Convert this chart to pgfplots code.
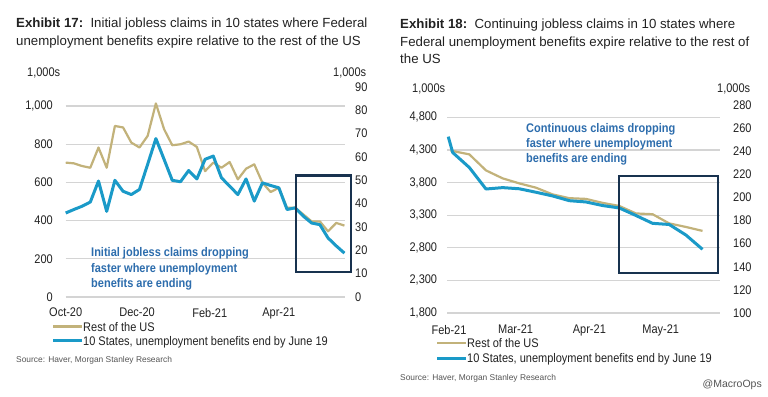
\documentclass[border=0pt]{standalone}
\usepackage{fontspec}
\setmainfont{Liberation Sans}
\newfontfamily\condfont{Liberation Sans}[FakeStretch=0.88]
\usepackage{pgfplots}
\pgfplotsset{compat=1.18}
\definecolor{gold}{HTML}{C2B27A}
\definecolor{lblue}{HTML}{1A9AC8}
\definecolor{navy}{HTML}{18324F}
\definecolor{anno}{HTML}{2D6DAD}
\definecolor{gridc}{HTML}{D4D4D4}
\definecolor{txt}{HTML}{222222}
\definecolor{srcc}{HTML}{555555}
\newcommand{\tfont}{\condfont\fontsize{12.5bp}{12.5bp}\selectfont}
\newcommand{\ttlfont}{\fontsize{13.25bp}{17bp}\selectfont}
\newcommand{\afont}{\condfont\bfseries\fontsize{12.5bp}{15.3bp}\selectfont}

\pgfplotsset{
  panel/.style={
    scale only axis, anchor=south west, clip=false,
    axis line style={draw=none}, tick style={draw=none},
    ticklabel style={font=\tfont, text=txt},
  },
}

\begin{document}
\begin{tikzpicture}[x=1bp,y=1bp]
\path[use as bounding box] (0,0) rectangle (768,396);
\fill[white] (0,0) rectangle (768,396);

% ---------------- Left chart ----------------
\begin{axis}[panel, at={(65.7bp,99bp)}, width=279.3bp, height=210bp,
  xmin=0, xmax=34.07, ymin=0, ymax=1100,
  ytick={0,200,400,600,800,1000}, yticklabels={0,200,400,600,800,{1,000}},
  ymajorgrids, grid style={gridc, line width=1.3bp},
  xtick={0,8.71,17.57,26}, xticklabels={Oct-20,Dec-20,Feb-21,Apr-21},
  yticklabel style={anchor=east, inner sep=0pt, xshift=-12.7bp},
  xticklabel style={anchor=north, inner sep=0pt, yshift=-11bp},
]
\addplot[gold, line width=2.2bp, line join=round] coordinates {
(0,704)(1,700)(2,686)(3,677)(4,783)(5,677)(6,896)(7,888)(8,809)(9,783)
(10,844)(11,1014)(12,879)(13,795)(14,800)(15,814)(16,786)(17,659)(18,704)(19,677)
(20,707)(21,616)(22,672)(23,695)(24,598)(25,550)(26,572)(27,467)(28,467)(29,432)
(30,396)(31,396)(32,344)(33,388)(34,374)};
\end{axis}
\begin{axis}[panel, at={(65.7bp,99bp)}, width=279.3bp, height=210bp,
  xmin=0, xmax=34.07, ymin=0, ymax=90,
  axis x line=none, axis y line*=right,
  ytick={0,10,20,30,40,50,60,70,80,90}, yticklabels={0,10,20,30,40,50,60,70,80,90},
  yticklabel style={anchor=west, inner sep=0pt, xshift=10bp},
]
\addplot[lblue, line width=3bp, line join=round] coordinates {
(0,36.0)(1,37.5)(2,38.9)(3,40.7)(4,49.7)(5,36.7)(6,50.0)(7,45.3)(8,43.9)(9,46.1)
(10,56.9)(11,67.9)(12,59.0)(13,50.0)(14,49.4)(15,54.2)(16,50.6)(17,59.0)(18,60.4)(19,51.1)
(20,47.5)(21,43.9)(22,50.6)(23,41.1)(24,48.9)(25,47.8)(26,46.8)(27,37.5)(28,38.2)(29,34.6)
(30,31.7)(31,31.0)(32,25.3)(33,21.9)(34,18.8)};
\draw[navy, line width=2.6bp] (axis cs:28.09,52.1) rectangle (axis cs:34.8,10.8);
\end{axis}

% ---------------- Right chart ----------------
\begin{axis}[panel, at={(447.3bp,83bp)}, width=272.7bp, height=208bp,
  xmin=-0.7, xmax=113.9, ymin=1800, ymax=4990,
  ytick={1800,2300,2800,3300,3800,4300,4800},
  yticklabels={{1,800},{2,300},{2,800},{3,300},{3,800},{4,300},{4,800}},
  ymajorgrids, grid style={gridc, line width=1.3bp},
  xtick={0,28,59,89}, xticklabels={Feb-21,Mar-21,Apr-21,May-21},
  yticklabel style={anchor=east, inner sep=0pt, xshift=-10bp},
  xticklabel style={anchor=north, inner sep=0pt, yshift=-12bp},
]
\addplot[gold, line width=2.2bp, line join=round] coordinates {
(0.7,4290)(8.55,4233)(15.55,3987)(22.55,3865)(29.55,3788)(36.55,3722)(43.55,3619)(50.55,3561)
(57.55,3550)(64.55,3489)(71.55,3442)(78.55,3327)(85.55,3315)(92.55,3174)(99.55,3120)(106.55,3059)};
\end{axis}
\begin{axis}[panel, at={(447.3bp,83bp)}, width=272.7bp, height=208bp,
  xmin=-0.7, xmax=113.9, ymin=100, ymax=280,
  axis x line=none, axis y line*=right,
  ytick={100,120,140,160,180,200,220,240,260,280},
  yticklabels={100,120,140,160,180,200,220,240,260,280},
  yticklabel style={anchor=west, inner sep=0pt, xshift=13bp},
]
\addplot[lblue, line width=3bp, line join=round] coordinates {
(-0.3,252.6)(1.55,238.9)(8.55,225.9)(15.55,207.3)(22.55,208.5)(29.55,207.5)(36.55,204.5)(43.55,201.3)
(50.55,197.2)(57.55,196.1)(64.55,193.0)(71.55,190.9)(78.55,184.4)(85.55,177.6)(92.55,176.6)(99.55,167.5)(106.55,155.1)};
\draw[navy, line width=2.6bp] (axis cs:71.4,218.6) rectangle (axis cs:113,134.6);
\end{axis}

% ---------------- Texts ----------------
\node[anchor=base west, inner sep=0pt, text=txt] at (16,368.5) {\ttlfont\textbf{Exhibit 17:}\ \ Initial jobless claims in 10 states where Federal};
\node[anchor=base west, inner sep=0pt, text=txt] at (16,350.5) {\ttlfont unemployment benefits expire relative to the rest of the US};
\node[anchor=base west, inner sep=0pt, text=txt] at (400,368) {\ttlfont\textbf{Exhibit 18:}\ \ Continuing jobless claims in 10 states where};
\node[anchor=base west, inner sep=0pt, text=txt] at (400,350) {\ttlfont Federal unemployment benefits expire relative to the rest of};
\node[anchor=base west, inner sep=0pt, text=txt] at (400,333) {\ttlfont the US};

\node[anchor=base west, inner sep=0pt, text=txt] at (27,319.5) {\tfont 1,000s};
\node[anchor=base west, inner sep=0pt, text=txt] at (333,319.5) {\tfont 1,000s};
\node[anchor=base west, inner sep=0pt, text=txt] at (412,303.5) {\tfont 1,000s};
\node[anchor=base west, inner sep=0pt, text=txt] at (717,303.5) {\tfont 1,000s};

\node[anchor=north west, inner sep=0pt, align=left, text=anno, font=\afont] at (91,148.5)
  {Initial jobless claims dropping\\faster where unemployment\\benefits are ending};
\node[anchor=north west, inner sep=0pt, align=left, text=anno, font=\afont] at (526,273)
  {Continuous claims dropping\\faster where unemployment\\benefits are ending};

% legends
\draw[gold, line width=2.5bp] (53,69.3) -- (82,69.3);
\draw[lblue, line width=3bp] (53,55.3) -- (82,55.3);
\node[anchor=base west, inner sep=0pt, text=txt] at (83,64.8) {\tfont Rest of the US};
\node[anchor=base west, inner sep=0pt, text=txt] at (83,50.8) {\tfont 10 States, unemployment benefits end by June 19};
\draw[gold, line width=2.5bp] (437,53) -- (466,53);
\draw[lblue, line width=3bp] (437,38) -- (466,38);
\node[anchor=base west, inner sep=0pt, text=txt] at (467,48.5) {\tfont Rest of the US};
\node[anchor=base west, inner sep=0pt, text=txt] at (467,33.5) {\tfont 10 States, unemployment benefits end by June 19};

\node[anchor=base west, inner sep=0pt, text=srcc] at (16,33.5) {\fontsize{8.4bp}{10bp}\selectfont Source: Haver, Morgan Stanley Research};
\node[anchor=base west, inner sep=0pt, text=srcc] at (400,16) {\fontsize{8.4bp}{10bp}\selectfont Source: Haver, Morgan Stanley Research};
\node[anchor=base east, inner sep=0pt, text=srcc] at (762,8.5) {\fontsize{10.5bp}{12bp}\selectfont @MacroOps};
\end{tikzpicture}
\end{document}
